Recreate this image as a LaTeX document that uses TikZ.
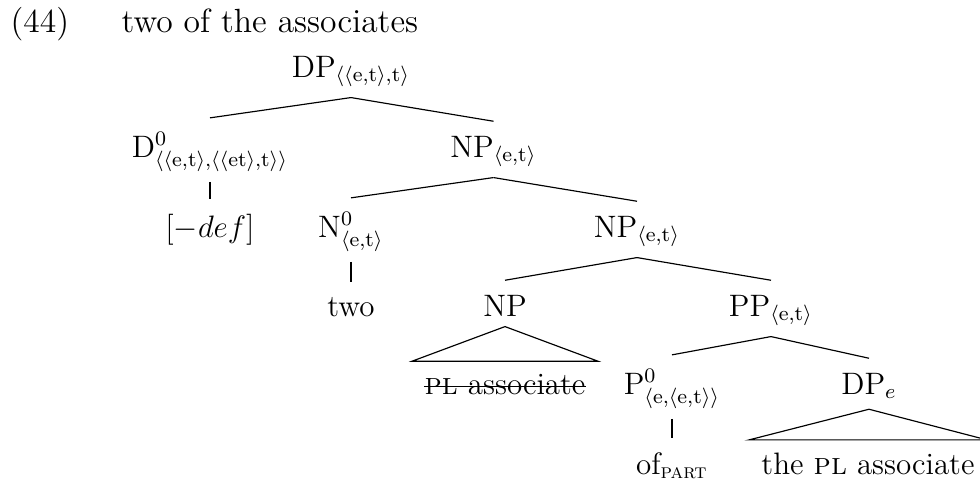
\documentclass[12pt,tikz,border=0pt]{standalone}
\usepackage{amsmath}
\newcommand\treeedge[2]{\draw ([yshift=0.774pt]#1.south) -- ([yshift=0.774pt]#2.north);}
\newcommand\treeroof[2]{\draw ([yshift=0.774pt]#1.south) -- ([xshift=-4.6pt]#2.north west) -- ([xshift=4.6pt]#2.north east) -- cycle;}
\begin{document}
\begin{tikzpicture}[x=0.3871pt,y=-0.3871pt,
  lbl/.style={inner xsep=0pt,inner ysep=4.645pt,anchor=base},
  titletext/.style={inner sep=0pt,anchor=base west,font=\fontsize{13}{15.6}\selectfont},
  line width=0.45pt]
\clip (0,0) rectangle (980,479);
\node[titletext] (ex) at (10,32) {(44)};
\node[titletext] (gloss) at (121,32) {two of the associates};
\node[lbl] (dp) at (351,77) {DP$_{\langle\langle\text{e,t}\rangle,\text{t}\rangle}$};
\node[lbl] (d) at (210,157) {D$^0_{\langle\langle\text{e,t}\rangle,\langle\langle\text{et}\rangle,\text{t}\rangle\rangle}$};
\node[lbl] (npa) at (493.5,157) {NP$_{\langle\text{e,t}\rangle}$};
\node[lbl] (def) at (210,237) {$[-def]$};
\node[lbl] (n) at (351,237) {N$^0_{\langle\text{e,t}\rangle}$};
\node[lbl] (npb) at (637,237) {NP$_{\langle\text{e,t}\rangle}$};
\node[lbl] (two) at (351,316) {two};
\node[lbl] (npc) at (505,316) {NP};
\node[lbl] (pp) at (771,316) {PP$_{\langle\text{e,t}\rangle}$};
\node[lbl] (pl) at (505,394) {\textsc{pl} associate};
\node[lbl] (p) at (672,394) {P$^0_{\langle\text{e,}\langle\text{e,t}\rangle\rangle}$};
\node[lbl] (dpe) at (869,394) {DP$_e$};
\node[lbl] (of) at (672,474) {of$_{\text{\scshape part}}$};
\node[lbl] (thepl) at (868,474) {the \textsc{pl} associate};
\draw ([yshift=2.84pt]pl.base west) -- ([yshift=2.84pt]pl.base east);
\treeedge{dp}{d}
\treeedge{dp}{npa}
\treeedge{d}{def}
\treeedge{npa}{n}
\treeedge{npa}{npb}
\treeedge{n}{two}
\treeedge{npb}{npc}
\treeedge{npb}{pp}
\treeedge{pp}{p}
\treeedge{pp}{dpe}
\treeedge{p}{of}
\treeroof{npc}{pl}
\treeroof{dpe}{thepl}
\end{tikzpicture}
\end{document}
